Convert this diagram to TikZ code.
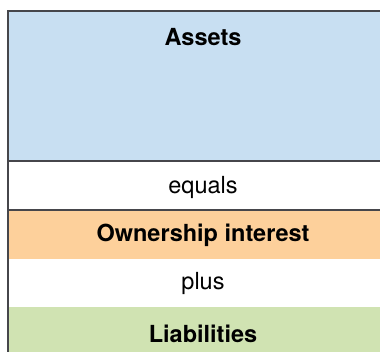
\documentclass[tikz,border=0pt]{standalone}
\usepackage{fontspec}
\setmainfont{TeX Gyre Heros}
\definecolor{assetblue}{RGB}{200,223,242}
\definecolor{ownorange}{RGB}{253,208,155}
\definecolor{liabgreen}{RGB}{208,227,178}
\definecolor{edgegray}{RGB}{70,70,75}
\tikzset{
  band/.style={draw=none},
  rule/.style={draw=edgegray, line width=1.5pt},
  label/.style={anchor=base, inner sep=0pt, font=\fontsize{23.5}{28}\selectfont},
  boldlabel/.style={label, font=\fontsize{23.5}{28}\selectfont\bfseries}
}
\begin{document}
\begin{tikzpicture}[x=1pt,y=-1pt]
\useasboundingbox (0,0) rectangle (380,352);
\fill[assetblue] (8,11) rectangle (380,161);
\fill[ownorange] (8,210) rectangle (380,259);
\fill[liabgreen] (8,307) rectangle (380,352);
\coordinate (tl) at (8,11);
\coordinate (tr) at (380,11);
\coordinate (bl) at (8,352);
\coordinate (l1) at (8,161);
\coordinate (r1) at (380,161);
\coordinate (l2) at (8,210);
\coordinate (r2) at (380,210);
\draw[rule] (tr) -- (tl) -- (bl);
\draw[rule, line width=1.8pt] (l1) -- (r1);
\draw[rule, line width=1.1pt] (l2) -- (r2);
\node[boldlabel] (assets) at (203,46) {Assets};
\node[label] (equals) at (203,194) {equals};
\node[boldlabel] (owner) at (203,242) {Ownership interest};
\node[label] (plus) at (203,290) {plus};
\node[boldlabel] (liab) at (203,342) {Liabilities};
\end{tikzpicture}
\end{document}
